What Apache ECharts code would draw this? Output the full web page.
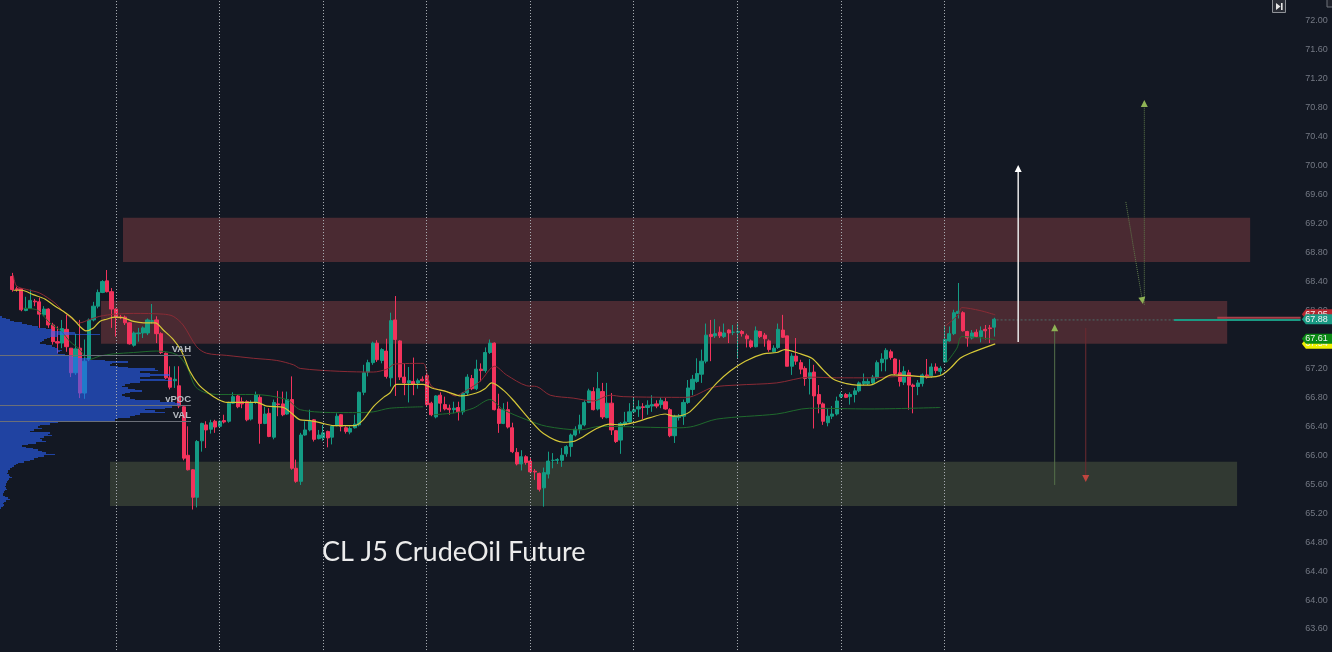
<!DOCTYPE html>
<html>
<head>
<meta charset="utf-8">
<title>CL J5 CrudeOil Future</title>
<script src="https://cdn.jsdelivr.net/npm/echarts@6/dist/echarts.min.js"></script>
<style>html,body{margin:0;padding:0;background:#131823}#c{width:1332px;height:652px}</style>
</head>
<body>
<div id="c"></div>
<script>
// Candles: [open, close, low, high]; first candle sits at bar 2.
const firstBar = 2;
const candles = [
[68.47,68.29,68.26,68.52],[68.30,68.29,68.26,68.33],[68.30,68.01,67.99,68.31],[68.00,68.03,67.99,68.19],[68.03,68.14,68.02,68.29],
[68.13,68.12,68.06,68.16],[68.12,67.95,67.76,68.18],[67.94,68.02,67.92,68.06],[68.02,67.80,67.76,68.03],[67.80,67.57,67.53,67.83],
[67.57,67.55,67.41,67.78],[67.55,67.75,67.48,67.87],[67.74,67.50,67.43,67.94],[67.48,67.14,67.08,67.48],[67.14,67.47,67.11,67.68],
[67.48,66.86,66.79,67.87],[66.86,67.30,66.78,67.60],[67.32,67.87,67.30,67.89],[67.87,68.06,67.85,68.12],[68.06,68.25,68.03,68.29],
[68.25,68.40,68.24,68.42],[68.41,68.26,68.25,68.56],[68.26,68.02,67.76,68.31],[68.02,67.91,67.64,68.03],[67.91,67.90,67.88,67.94],
[67.91,67.83,67.80,67.93],[67.83,67.54,67.53,67.84],[67.52,67.69,67.50,67.71],[67.68,67.69,67.57,67.76],[67.69,67.76,67.62,67.78],
[67.69,67.87,67.66,67.89],[67.85,67.86,67.82,68.09],[67.87,67.68,67.55,67.92],[67.68,67.42,67.40,67.70],[67.41,67.07,67.05,67.42],
[67.07,66.94,66.91,67.23],[67.03,67.05,66.93,67.23],[66.96,66.68,66.65,67.23],[66.67,65.96,65.93,66.68],[66.00,65.80,65.79,66.40],
[65.80,65.42,65.25,65.81],[65.42,66.19,65.28,66.21],[66.20,66.44,66.05,66.45],[66.42,66.35,66.10,66.47],[66.36,66.45,66.30,66.49],
[66.47,66.39,66.31,66.49],[66.40,66.47,66.38,66.48],[66.48,66.46,66.44,66.56],[66.47,66.72,66.45,66.74],[66.72,66.81,66.71,66.87],
[66.82,66.67,66.65,66.84],[66.74,66.71,66.65,66.80],[66.74,66.49,66.47,66.76],[66.50,66.73,66.48,66.76],[66.73,66.84,66.71,66.88],
[66.80,66.44,66.16,66.84],[66.44,66.57,66.43,66.67],[66.58,66.26,66.25,66.65],[66.25,66.73,66.22,66.77],[66.71,66.70,66.54,66.89],
[66.71,66.56,66.54,66.88],[66.57,66.77,66.56,66.88],[66.77,65.82,65.80,67.09],[65.82,65.64,65.62,65.94],[65.64,66.28,65.59,66.31],
[66.28,66.35,66.27,66.47],[66.35,66.47,66.33,66.63],[66.49,66.22,66.19,66.50],[66.23,66.28,66.22,66.35],[66.24,66.31,66.20,66.42],
[66.33,66.24,66.11,66.34],[66.25,66.40,66.15,66.42],[66.41,66.54,66.40,66.58],
[66.56,66.40,66.33,66.57],[66.38,66.33,66.30,66.40],[66.32,66.37,66.29,66.40],[66.38,66.43,66.37,66.56],[66.42,66.87,66.40,66.88],
[66.87,67.14,66.83,67.25],[67.15,67.28,67.09,67.32],[67.28,67.55,67.25,67.57],[67.55,67.32,67.29,67.59],[67.31,67.46,67.27,67.48],
[67.44,67.09,67.06,67.61],[67.07,67.86,66.95,67.97],[67.87,67.60,66.82,68.20],[67.58,67.08,67.04,67.59],[67.08,67.00,66.83,67.27],
[67.00,67.03,66.73,67.22],[67.02,66.98,66.83,67.35],[67.00,67.03,66.92,67.06],[67.05,67.03,67.02,67.09],[67.10,66.70,66.68,67.13],
[66.72,66.56,66.54,66.74],[66.53,66.82,66.51,66.83],[66.83,66.72,66.60,66.87],[66.70,66.64,66.62,66.81],[66.65,66.63,66.56,66.70],
[66.63,66.65,66.58,66.74],[66.66,66.60,66.48,66.74],[66.60,66.86,66.56,66.87],[66.86,67.08,66.83,67.12],[67.06,66.92,66.90,67.11],
[66.92,67.19,66.90,67.32],[67.19,67.17,67.02,67.27],[67.17,67.42,67.14,67.49],[67.42,67.55,67.40,67.60],[67.55,66.63,66.62,67.56],
[66.64,66.44,66.31,66.85],[66.44,66.63,66.43,66.72],[66.63,66.39,66.37,66.74],[66.38,66.05,66.03,66.45],[66.04,65.88,65.86,66.10],
[65.88,65.98,65.79,66.07],[65.98,65.90,65.87,66.00],[65.92,65.77,65.75,65.96],[65.78,65.77,65.66,65.81],[65.75,65.53,65.50,65.76],
[65.55,65.76,65.29,65.83],[65.74,65.92,65.68,66.05],[65.93,65.93,65.82,66.03],[65.93,65.94,65.88,65.96],[65.93,66.00,65.84,66.10],
[66.02,66.12,65.98,66.14],[66.12,66.28,65.98,66.30],[66.28,66.36,66.26,66.40],[66.36,66.42,66.30,66.56],[66.42,66.73,66.40,66.76],
[66.73,66.89,66.72,66.92],[66.88,66.63,66.62,66.94],[66.64,66.92,66.62,67.15],[66.88,66.53,66.50,67.00],[66.52,66.72,66.51,67.00],
[66.72,66.35,66.28,66.86],[66.34,66.19,66.17,66.35],[66.21,66.44,66.02,66.46],[66.43,66.46,66.40,66.60],[66.46,66.60,66.45,66.72],
[66.60,66.63,66.58,66.79],[66.64,66.67,66.53,66.76],[66.67,66.66,66.50,66.72],[66.66,66.69,66.56,66.76],[66.68,66.70,66.60,66.83],
[66.71,66.68,66.65,66.76],[66.70,66.76,66.65,66.80],[66.74,66.64,66.63,66.79],[66.63,66.27,66.25,66.65],[66.27,66.54,66.17,66.56],
[66.52,66.54,66.48,66.57],[66.54,66.73,66.42,66.77],[66.73,66.93,66.71,67.04],[66.91,67.05,66.83,67.11],[67.02,67.13,67.00,67.34],
[67.12,67.30,67.00,67.46],[67.30,67.66,67.27,67.82],[67.67,67.64,67.30,67.87],[67.65,67.68,67.62,67.88],[67.70,67.65,67.62,67.78],
[67.64,67.69,67.62,67.82],[67.73,67.69,67.55,67.74],[67.70,67.70,67.66,67.80],[67.70,67.71,67.34,67.82],[67.71,67.68,67.64,67.73],
[67.65,67.61,67.49,67.68],[67.58,67.50,67.48,67.60],[67.50,67.72,67.49,67.78],[67.71,67.64,67.62,67.72],[67.66,67.61,67.50,67.69],
[67.58,67.46,67.43,67.60],[67.43,67.48,67.42,67.52],[67.49,67.74,67.47,67.82],[67.73,67.63,67.62,67.94],[67.65,67.23,67.23,67.65],
[67.23,67.37,67.11,67.41],[67.37,67.30,67.25,67.62],[67.28,67.19,67.12,67.32],[67.20,67.06,66.96,67.23],[67.06,67.14,66.84,67.33],
[67.15,66.82,66.37,67.25],[66.84,66.71,66.58,66.97],[66.71,66.47,66.42,66.73],[66.45,66.54,66.40,66.65],[66.54,66.57,66.50,66.68],
[66.57,66.75,66.55,66.81],[66.81,66.84,66.79,66.87],[66.84,66.80,66.79,66.86],[66.81,66.84,66.70,66.87],[66.84,66.89,66.73,66.93],
[66.89,67.00,66.87,67.02],[66.99,67.02,66.97,67.13],[66.99,67.02,66.97,67.06],[67.00,67.08,66.97,67.11],[67.07,67.28,67.05,67.31],
[67.28,67.33,67.16,67.41],[67.33,67.45,67.16,67.48],[67.43,67.35,67.32,67.46],[67.33,67.13,67.11,67.34],[67.14,67.02,66.95,67.32],
[67.01,67.16,66.97,67.23],[67.14,66.97,66.63,67.18],[66.97,66.95,66.58,66.99],[66.95,67.00,66.83,67.04],[66.99,67.11,66.95,67.13],
[67.11,67.08,67.06,67.33],[67.09,67.22,67.07,67.27],[67.22,67.17,67.13,67.27],[67.16,67.20,67.11,67.23],[67.29,67.60,67.28,67.80],
[67.58,67.68,67.57,67.78],[67.68,67.97,67.66,68.01],[67.96,67.99,67.89,68.38],[67.97,67.72,67.71,67.99],[67.71,67.62,67.50,67.72],
[67.62,67.69,67.60,67.73],[67.70,67.64,67.62,67.74],[67.64,67.72,67.56,67.78],[67.74,67.72,67.60,67.80],[67.76,67.75,67.55,67.80],
[67.77,67.88,67.64,67.90]
];
const totalBars = 288;

// Averages: [bar, price]; a null price breaks the line.
const yellowLine = [[2.2,68.28],[4.1,68.28],[6.6,68.22],[9.2,68.16],[11.5,68.06],[13.3,67.99],[15.2,67.90],[17,67.78],[18.3,67.72],[20,67.76],[21.4,67.85],[22.9,67.88],[24.8,67.91],[26.6,67.90],[28.9,67.85],[31.1,67.83],[33.7,67.83],[35.5,67.73],[37.7,67.60],[39.6,67.43],[41.4,67.16],[43.3,66.98],[45.5,66.86],[47.7,66.77],[49.6,66.73],[52.5,66.73],[56.2,66.73],[58.5,66.68],[62.2,66.66],[64,66.58],[65.9,66.49],[68.1,66.48],[70.3,66.45],[73.3,66.41],[78,66.41],[79.9,66.49],[82.1,66.67],[84.4,66.80],[85.8,66.86],[87.3,66.98],[93.2,66.98],[95.1,66.93],[98.4,66.88],[101.7,66.82],[105,66.86],[106.9,66.92],[108.4,67.00],[111,66.90],[113.2,66.76],[116.9,66.49],[119.9,66.30],[124.3,66.18],[126.5,66.19],[128.8,66.26],[131.7,66.37],[134.7,66.43],[136.9,66.42],[139.9,66.45],[143.6,66.52],[146.9,66.57],[148.8,66.54],[150.6,66.55],[152.4,66.60],[155.4,66.79],[158.4,67.00],[161.3,67.16],[164.7,67.30],[168.7,67.40],[171.7,67.42],[173.5,67.46],[176.5,67.41],[179.5,67.34],[182,67.18],[184.3,67.05],[187.2,66.99],[189.5,66.97],[192.4,66.97],[194.6,67.03],[197.2,67.11],[201.3,67.10],[205.7,67.08],[208.3,67.11],[210.2,67.20],[212.4,67.34],[214.6,67.41],[220.2,67.54]];
const redLine = [[2.2,68.49],[2.9,68.34],[5.2,68.29],[8.1,68.24],[11.5,68.10],[14.1,67.94],[17,67.83],[18.9,67.87],[21.4,67.92],[24.8,67.95],[28.9,67.96],[35.5,67.95],[37.7,67.92],[39.9,67.80],[42.9,67.50],[45.1,67.41],[49.6,67.38],[55.5,67.34],[60.7,67.31],[64.4,67.25],[65.9,67.20],[74.7,67.16],[82.1,67.15],[85.1,67.19],[86.9,67.26],[93.2,67.27],[94,67.14],[95.1,66.95],[98.4,66.88],[100.3,66.82],[102.9,66.90],[105.8,67.02],[109.1,67.23],[111.7,67.11],[116.2,66.96],[118.4,66.95],[121.4,66.83],[126.5,66.79],[131,66.75],[134.7,66.83],[137.6,66.81],[151.7,66.80],[157.6,66.94],[162.8,66.97],[171.7,67.00],[179,67.08],[185,67.07],[192.4,67.07],[199.8,67.09],[208,67.09],[208.5,null],[209,67.78],[212,67.94],[212.8,68.04],[216.8,68.00],[220.2,67.94]];
const greenLine = [[4.4,68.03],[7.4,68.01],[10.3,67.83],[12.9,67.71],[14.8,67.57],[17,67.46],[18.9,67.32],[21.4,67.37],[24.4,67.40],[28.9,67.42],[34,67.44],[38.5,67.39],[40.7,67.23],[42.6,66.95],[45.1,66.86],[48.1,66.84],[55.5,66.84],[62.9,66.77],[65.9,66.63],[74.7,66.59],[78.4,66.59],[82.1,66.60],[85.8,66.65],[93.2,66.67],[94.3,null],[95.5,66.56],[100.6,66.59],[104.3,66.65],[108,66.77],[111,66.63],[116.2,66.49],[120.6,66.40],[128,66.35],[132.5,66.40],[150.2,66.38],[153.2,66.40],[158.4,66.50],[171.7,66.57],[179,66.65],[192.4,66.64],[208,66.66],[208.7,null],[209.4,67.28],[211.7,67.48],[212.8,67.64],[220.2,67.60]];

// Zones: [from bar, to bar, low price, high price]
const zones = [[26.55,276.8,68.67,69.28],[21.67,271.7,67.54,68.13],[23.67,273.9,65.30,65.91]];
const zoneColors = ['rgba(130,60,65,0.5)','rgba(130,60,65,0.5)','rgba(80,90,65,0.5)'];
// Session separators (bars)
const sessionBars = [25,48,71,94,117,140,163,186,209];
// Drawn arrows: [from bar, from price, to bar, to price]
const arrows = [[225.3,67.565,225.3,70.01],[253.3,68.08,253.3,70.91],[249.2,69.50,253.0,68.09],[233.4,65.59,233.4,67.81],[240.3,67.76,240.3,65.63]];
const arrowLine = ['#e8e8e8','#5f7a4a','#5f7a4a','#55704a','#6e2a30'];
const arrowHead = ['#ffffff','#8fb355','#8fb355','#8fb355','#c0453f'];
const arrowWidth = [1.5,1,1,1,1];
const arrowDash = [null,[1,1],[1,1],null,null];
// Right-hand price lines: [from bar, to bar, price]
const priceLines = [[220.5,259.9,67.87],[269.5,288,67.90],[259.9,288,67.87]];
const priceLineColors = ['#4d6b68','#a8404a','#1a9a84'];
const priceLineWidths = [1,2,2];
const priceLineDash = [[2,2],null,null];
// Axis tags
const tagValues = [67.95,67.88,67.54,67.61];
const tagColors = ['#b4262f','#1a9a84','#eef000','#0a8a14'];
// Volume profile
const profileTop = 67.92, profileStep = 0.02;
const profileVolumes = [2,6,10,14,22,27,32,38,46,52,62,75,100,58,50,47,44,42,40,46,52,55,58,62,60,58,65,72,78,90,105,128,112,110,118,128,155,158,140,150,170,150,140,165,172,140,130,125,122,128,135,142,130,125,122,125,130,135,160,175,180,190,172,165,145,155,165,140,135,130,118,115,65,58,50,40,38,42,34,30,50,48,52,44,40,42,46,36,28,22,26,33,38,42,46,55,44,38,34,30,24,18,16,14,12,10,8,8,7,9,10,12,9,8,7,6,6,5,6,7,5,4,3,3,5,8,10,6,4,3,4,3,1];
const profileLevels = [67.38,66.695,66.48];
const profileLabels = ['VAH','vPOC','VAL'];
const tickInterval = 0.4, priceMin = 63.2, priceMax = 72.4;
const titleText = 'CL J5 CrudeOil Future';

const categories = Array.from({length: totalBars}, (_, i) => String(i));
const candleData = categories.map((_, i) => candles[i - firstBar] || '-');
const barMin = -0.5, barMax = totalBars - 0.5;

const chart = echarts.init(document.getElementById('c'));

function arrowRender(params, api) {
  const k = params.dataIndex;
  const a = api.coord([api.value(0), api.value(1)]);
  const b = api.coord([api.value(2), api.value(3)]);
  const dx = b[0] - a[0], dy = b[1] - a[1], len = Math.hypot(dx, dy) || 1;
  const ux = dx / len, uy = dy / len, hl = 7, hw = 3.5;
  const bx = b[0] - ux * hl, by = b[1] - uy * hl;
  return {type: 'group', children: [
    {type: 'line', shape: {x1: a[0], y1: a[1], x2: bx, y2: by},
     style: {stroke: arrowLine[k], lineWidth: arrowWidth[k], lineDash: arrowDash[k]}},
    {type: 'polygon', shape: {points: [b, [bx - uy * hw, by + ux * hw], [bx + uy * hw, by - ux * hw]]},
     style: {fill: arrowHead[k]}}
  ]};
}

const option = {
  backgroundColor: '#131823',
  animation: false,
  title: {text: titleText, left: 317, top: 534, textStyle: {color: '#ececec', fontFamily: 'Lato', fontWeight: 'normal', fontSize: 27}},
  grid: [
    {left: 1.15, right: 33.65, top: -7.95, bottom: -5.94, outerBoundsMode: 'none'},
    {left: 0, right: 32, top: -7.95, bottom: -5.94, outerBoundsMode: 'none'}
  ],
  xAxis: [
    {type: 'category', gridIndex: 0, data: categories, show: false},
    {type: 'value', gridIndex: 0, min: barMin, max: barMax, show: false},
    {type: 'value', gridIndex: 1, min: 0, max: 1300, show: false}
  ],
  yAxis: [
    {type: 'value', gridIndex: 0, position: 'right', min: priceMin, max: priceMax, interval: tickInterval,
     axisLine: {show: false}, axisTick: {show: false}, splitLine: {show: false},
     axisLabel: {color: '#747984', fontSize: 9, fontFamily: 'Liberation Sans', margin: 7, padding: [3, 0, 0, 0], formatter: v => v.toFixed(2)}},
    {type: 'value', gridIndex: 1, min: priceMin, max: priceMax, show: false}
  ],
  series: [
    {type: 'custom', name: 'zones', xAxisIndex: 1, yAxisIndex: 0, z: 1, silent: true, data: zones,
     encode: {x: [0, 1], y: [2, 3]},
     renderItem: (p, api) => {
       const a = api.coord([api.value(0), api.value(3)]);
       const b = api.coord([api.value(1), api.value(2)]);
       return {type: 'rect', shape: {x: a[0], y: a[1], width: b[0] - a[0], height: b[1] - a[1]}, style: {fill: zoneColors[p.dataIndex]}};
     }},
    {type: 'candlestick', name: 'CL J5', xAxisIndex: 0, yAxisIndex: 0, z: 3, barWidth: 3.6, data: candleData, silent: true,
     itemStyle: {color: '#149b84', color0: '#f2335c', borderColor: '#149b84', borderColor0: '#f2335c', borderWidth: 1}},
    {type: 'line', name: 'red', xAxisIndex: 1, yAxisIndex: 0, z: 4, data: redLine, showSymbol: false, symbol: 'none', smooth: 0.3, silent: true,
     lineStyle: {color: '#8a2a35', width: 1}},
    {type: 'line', name: 'green', xAxisIndex: 1, yAxisIndex: 0, z: 4, data: greenLine, showSymbol: false, symbol: 'none', smooth: 0.3, silent: true,
     lineStyle: {color: '#1f6a2d', width: 1}},
    {type: 'line', name: 'yellow', xAxisIndex: 1, yAxisIndex: 0, z: 4, data: yellowLine, showSymbol: false, symbol: 'none', smooth: 0.3, silent: true,
     lineStyle: {color: '#d6c838', width: 1.2}},
    {type: 'custom', name: 'profile', xAxisIndex: 2, yAxisIndex: 1, z: 5, silent: true,
     data: profileVolumes.map((v, i) => [v, profileTop - i * profileStep]),
     encode: {x: 0, y: 1},
     renderItem: (p, api) => {
       const a = api.coord([0, api.value(1)]);
       const b = api.coord([api.value(0), api.value(1) - profileStep]);
       const y0 = Math.round(a[1]), y1 = Math.round(b[1]);
       return {type: 'rect', shape: {x: a[0], y: y0, width: b[0] - a[0], height: y1 - y0}, style: {fill: 'rgba(41,98,255,0.58)'}};
     }},
    {type: 'custom', name: 'levels', xAxisIndex: 2, yAxisIndex: 1, z: 6, silent: true,
     data: profileLevels.map(v => [191, v]),
     encode: {x: 0, y: 1},
     renderItem: (p, api) => {
       const a = api.coord([0, api.value(1)]);
       const b = api.coord([api.value(0), api.value(1)]);
       const y = Math.round(a[1]) + 0.5;
       return {type: 'group', children: [
         {type: 'line', shape: {x1: a[0], y1: y, x2: b[0], y2: y}, style: {stroke: '#6b6f78', lineWidth: 1}},
         {type: 'text', style: {text: profileLabels[p.dataIndex], x: b[0], y: y - 6, align: 'right', verticalAlign: 'middle',
           fill: '#b6bac0', font: 'bold 9.5px "Liberation Sans"'}}
       ]};
     }},
    {type: 'custom', name: 'sessions', xAxisIndex: 1, yAxisIndex: 0, z: 7, silent: true,
     data: sessionBars.map(b => [b, priceMin]),
     encode: {x: 0, y: 1},
     renderItem: (p, api) => {
       const a = api.coord([api.value(0), priceMax]);
       const b = api.coord([api.value(0), priceMin]);
       const x = Math.floor(a[0]) + 0.5;
       return {type: 'line', shape: {x1: x, y1: a[1], x2: x, y2: b[1]}, style: {stroke: '#aeb2b8', lineWidth: 1, lineDash: [1, 2]}};
     }},
    {type: 'custom', name: 'priceLines', xAxisIndex: 1, yAxisIndex: 0, z: 4, silent: true, data: priceLines,
     encode: {x: [0, 1], y: 2},
     renderItem: (p, api) => {
       const a = api.coord([api.value(0), api.value(2)]);
       const b = api.coord([api.value(1), api.value(2)]);
       const k = p.dataIndex;
       return {type: 'line', shape: {x1: a[0], y1: a[1], x2: b[0], y2: b[1]},
         style: {stroke: priceLineColors[k], lineWidth: priceLineWidths[k], lineDash: priceLineDash[k]}};
     }},
    {type: 'custom', name: 'arrows', xAxisIndex: 1, yAxisIndex: 0, z: 8, silent: true, data: arrows,
     encode: {x: [0, 2], y: [1, 3]}, renderItem: arrowRender},
    {type: 'custom', name: 'tags', xAxisIndex: 1, yAxisIndex: 0, z: 9, silent: true, clip: false,
     data: tagValues.map((v, i) => [barMax, v]),
     encode: {x: 0, y: 1},
     renderItem: (p, api) => {
       const c = api.coord([api.value(0), api.value(1)]);
       const y = c[1], x = c[0] + 3.5, k = p.dataIndex;
       return {type: 'group', children: [
         {type: 'polygon', shape: {points: [[x, y], [x + 4, y - 5], [1332, y - 5], [1332, y + 5], [x + 4, y + 5]]}, style: {fill: tagColors[k]}},
         {type: 'text', style: {text: api.value(1).toFixed(2), x: 1316.5, y: y, align: 'center', verticalAlign: 'middle', fill: '#f2f2f2', font: '9px "Liberation Sans"'}}
       ]};
     }}
  ],
  graphic: [
    {type: 'rect', shape: {x: 1272.5, y: -1, width: 13, height: 13.5}, style: {fill: '#2a2d36', stroke: '#8f9298', lineWidth: 1}, z: 20},
    {type: 'polygon', shape: {points: [[1276, 3], [1276, 10], [1280.5, 6.5]]}, style: {fill: '#e6e6e6'}, z: 21},
    {type: 'rect', shape: {x: 1281, y: 3, width: 1.6, height: 7}, style: {fill: '#e6e6e6'}, z: 21},
    {type: 'rect', shape: {x: 1327, y: -1, width: 6, height: 8}, style: {fill: '#20232c', stroke: '#6f727a', lineWidth: 1}, z: 20}
  ]
};
chart.setOption(option);
</script>
</body>
</html>
